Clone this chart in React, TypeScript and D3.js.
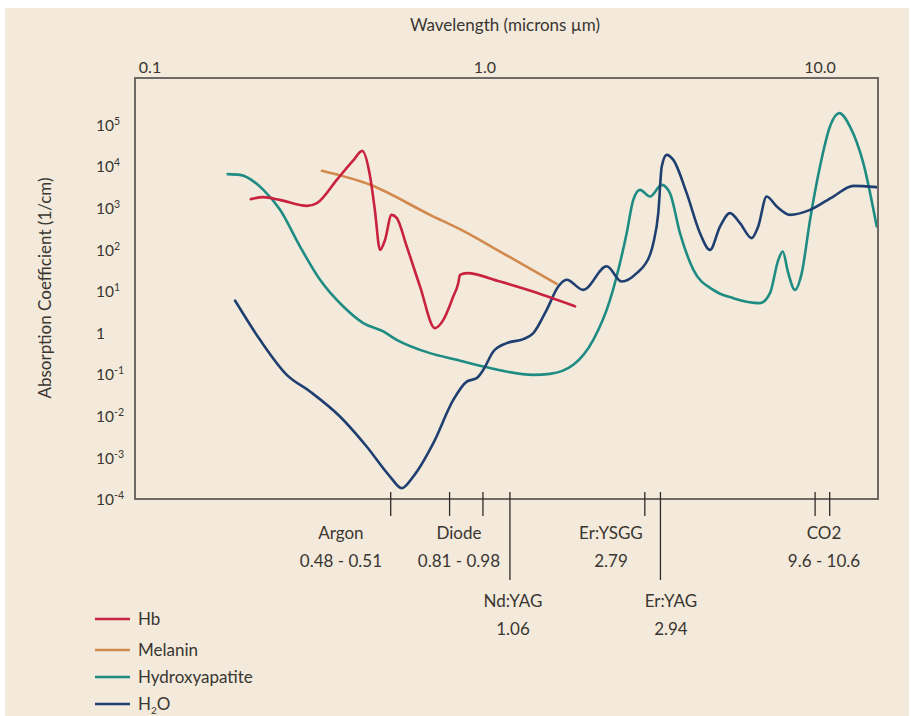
import React, { useRef, useEffect } from 'react';
import * as d3 from 'd3';

// wavelength (µm) / absorption coefficient (1/cm) pairs
const hbWavelength = [0.2, 0.218, 0.244, 0.294, 0.315, 0.361, 0.405, 0.43, 0.454, 0.469, 0.486, 0.503, 0.526, 0.545, 0.584, 0.64, 0.709, 0.751, 0.804, 0.832, 0.842, 0.882, 1.109, 1.391, 1.857];
const hbValues = [1730, 1930, 1660, 1190, 1390, 5040, 15000, 25000, 6040, 957, 104, 182, 726, 614, 126, 13.7, 1.37, 2.17, 7.88, 16.5, 26.2, 28.8, 18.1, 10.4, 4.58];

const melaninWavelength = [0.326, 0.454, 0.685, 0.872, 1.109, 1.637];
const melaninValues = [8280, 3820, 726, 283, 95, 15.9];

const hapWavelength = [0.1706, 0.1856, 0.218, 0.2445, 0.2805, 0.3218, 0.3776, 0.4332, 0.497, 0.545, 0.685, 0.823, 0.988, 1.394, 1.563, 1.835, 2.105, 2.362, 2.648, 2.771, 2.902, 3.108, 3.37, 3.565, 3.82, 4.19, 4.8, 5.51, 6.62, 7.09, 7.51, 7.74, 8.04, 8.42, 8.82, 9.34, 10.0, 10.71, 11.42, 12.29, 13.47, 14.77];
const hapValues = [6900, 6640, 2895, 957, 125, 19.9, 4.53, 1.81, 1.14, 0.718, 0.344, 0.237, 0.164, 0.103, 0.109, 0.18, 0.718, 6.57, 263, 1664, 2895, 1997, 3818, 2410, 263, 34.5, 11.4, 7.21, 5.47, 9.51, 60, 95, 28.8, 11.4, 28.8, 550, 10500, 96200, 202000, 96200, 12700, 380];

const waterWavelength = [0.1794, 0.213, 0.256, 0.3003, 0.369, 0.4433, 0.5205, 0.5641, 0.6109, 0.7011, 0.8042, 0.882, 0.9445, 0.9884, 1.0587, 1.161, 1.301, 1.394, 1.528, 1.655, 1.753, 1.965, 2.308, 2.559, 2.837, 3.108, 3.18, 3.291, 3.37, 3.486, 3.649, 4.0, 4.384, 4.694, 5.03, 5.386, 5.77, 6.25, 6.54, 6.93, 7.43, 8.14, 9.34, 10.96, 12.57, 14.77];
const waterValues = [6.32, 0.718, 0.1034, 0.0412, 0.01028, 0.001954, 0.000372, 0.000195, 0.000372, 0.00236, 0.0259, 0.0713, 0.0861, 0.1364, 0.3754, 0.598, 0.746, 1.04, 3.78, 13.7, 19.9, 11.4, 42, 18.1, 28.8, 79.2, 151, 797, 10500, 20100, 15200, 2410, 263, 104.5, 380, 797, 458, 200, 380, 2000, 1148, 726, 957, 2000, 3610, 3360];

const seriesNames = ['Hb', 'Melanin', 'Hydroxyapatite', 'H2O'];
const seriesColors = ['#c8223f', '#d2894d', '#1f8c84', '#1f3f70'];

const xTickValues = [0.1, 1, 10];
const xTickLabels = ['0.1', '1.0', '10.0'];
const yExponents = [5, 4, 3, 2, 1, 0, -1, -2, -3, -4];

// laser markers: where the tick sits on the figure's wavelength axis, and its label
const laserNames = ['Argon', 'Diode', 'Nd:YAG', 'Er:YSGG', 'Er:YAG', 'CO2'];
const laserRanges = ['0.48 - 0.51', '0.81 - 0.98', '1.06', '2.79', '2.94', '9.6 - 10.6'];
const laserTicks = [[0.523], [0.784, 0.986], [1.187], [3.0], [3.34], [9.67, 10.69]];
const laserLabelAt = [0.3715, 0.836, 1.212, 2.377, 3.59, 10.28];
const laserLong = [false, false, true, false, true, false];

const FONT = 'Lato, "Open Sans", sans-serif';

const App = () => {
  const ref = useRef<SVGSVGElement>(null);

  useEffect(() => {
    const svg = d3.select(ref.current);
    svg.selectAll('*').remove();

    const W = 911, H = 716;
    svg.append('rect').attr('width', W).attr('height', H).attr('fill', '#ffffff');
    svg.append('rect').attr('x', 5).attr('y', 8).attr('width', W - 7).attr('height', H - 8).attr('fill', '#f3eadb');

    const left = 135, right = 878, top = 78, bottom = 499;
    const x = d3.scaleLog().domain([0.0902, 14.9]).range([left, right]);
    const y = d3.scaleLog().domain([Math.pow(10, -3.97), Math.pow(10, 6.15)]).range([bottom, top]);

    const textColor = '#3a3632';

    // titles
    svg.append('text').attr('x', 505).attr('y', 31).attr('text-anchor', 'middle')
      .attr('font-family', FONT).attr('font-size', 17).attr('fill', textColor)
      .text('Wavelength (microns µm)');

    svg.append('text')
      .attr('transform', `translate(51,288) rotate(-90)`)
      .attr('text-anchor', 'middle').attr('font-family', FONT).attr('font-size', 17).attr('fill', textColor)
      .text('Absorption Coefficient (1/cm)');

    // top tick labels
    svg.append('g').selectAll('text').data(xTickValues).join('text')
      .attr('x', d => x(d)).attr('y', 73).attr('text-anchor', 'middle')
      .attr('font-family', FONT).attr('font-size', 16).attr('fill', textColor)
      .text((d, i) => xTickLabels[i]);

    // left tick labels
    const yl = svg.append('g').selectAll('text').data(yExponents).join('text')
      .attr('x', 96).attr('y', d => y(Math.pow(10, d)) + 5)
      .attr('font-family', FONT).attr('font-size', 15.5).attr('fill', textColor);
    yl.each(function (d) {
      const t = d3.select(this);
      if (d === 0) { t.text('1'); return; }
      t.append('tspan').text('10');
      t.append('tspan').attr('dy', -6).attr('font-size', 10.5).text(d < 0 ? '-' + Math.abs(d) : String(d));
    });

    // curves
    const line = d3.line<[number, number]>()
      .x(d => x(d[0])).y(d => y(d[1]))
      .curve(d3.curveMonotoneX);

    const series: [number, number][][] = [
      hbWavelength.map((w, i) => [w, hbValues[i]]),
      melaninWavelength.map((w, i) => [w, melaninValues[i]]),
      hapWavelength.map((w, i) => [w, hapValues[i]]),
      waterWavelength.map((w, i) => [w, waterValues[i]]),
    ];
    const order = [2, 3, 1, 0];
    order.forEach(i => {
      svg.append('path').datum(series[i])
        .attr('fill', 'none').attr('stroke', seriesColors[i])
        .attr('stroke-width', 2.6).attr('stroke-linejoin', 'round').attr('stroke-linecap', 'round')
        .attr('d', line);
    });

    // frame
    svg.append('rect').attr('x', left).attr('y', top).attr('width', right - left).attr('height', bottom - top)
      .attr('fill', 'none').attr('stroke', '#6e6964').attr('stroke-width', 2);

    // laser markers
    const mk = svg.append('g');
    laserNames.forEach((name, i) => {
      laserTicks[i].forEach(w => {
        mk.append('line').attr('x1', x(w)).attr('x2', x(w))
          .attr('y1', bottom - 7).attr('y2', laserLong[i] ? 580 : 516)
          .attr('stroke', '#2f2b28').attr('stroke-width', 1.3);
      });
      const cx = x(laserLabelAt[i]);
      const ty = laserLong[i] ? 607 : 539;
      mk.append('text').attr('x', cx).attr('y', ty).attr('text-anchor', 'middle')
        .attr('font-family', FONT).attr('font-size', 17).attr('fill', textColor).text(name);
      mk.append('text').attr('x', cx).attr('y', ty + 28).attr('text-anchor', 'middle')
        .attr('font-family', FONT).attr('font-size', 17).attr('fill', textColor).text(laserRanges[i]);
    });

    // legend
    const lg = svg.append('g');
    const legendY = [619, 650, 677, 704];
    seriesNames.forEach((name, i) => {
      lg.append('line').attr('x1', 95).attr('x2', 130).attr('y1', legendY[i]).attr('y2', legendY[i])
        .attr('stroke', seriesColors[i]).attr('stroke-width', 2.6);
      const t = lg.append('text').attr('x', 138).attr('y', legendY[i] + 6)
        .attr('font-family', FONT).attr('font-size', 17).attr('fill', textColor);
      if (name === 'H2O') {
        t.append('tspan').text('H');
        t.append('tspan').attr('dy', 4).attr('font-size', 10).text('2');
        t.append('tspan').attr('dy', -4).text('O');
      } else {
        t.text(name);
      }
    });
  }, []);

  return (
    <div style={{ position: 'absolute', left: 0, top: 0 }}>
      <svg ref={ref} width={911} height={716} style={{ display: 'block' }} />
    </div>
  );
};

export default App;
